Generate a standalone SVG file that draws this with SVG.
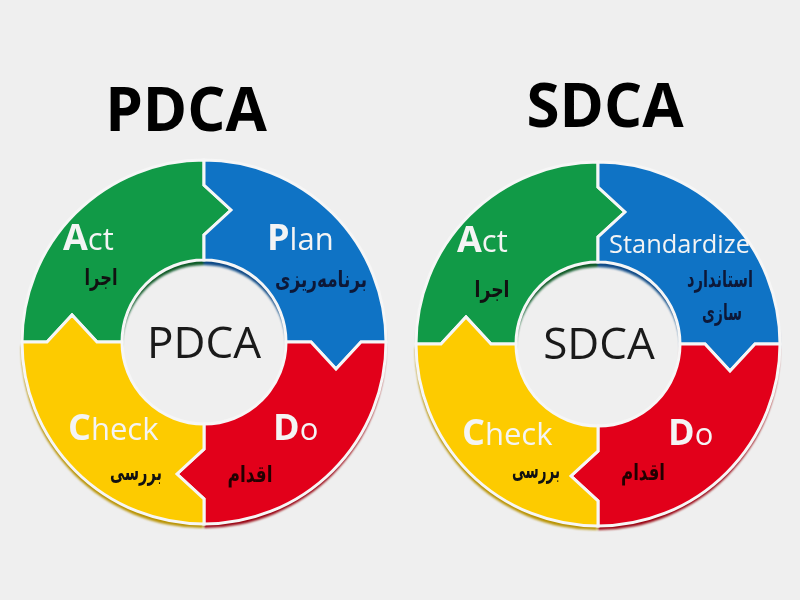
<svg xmlns="http://www.w3.org/2000/svg" xmlns:xlink="http://www.w3.org/1999/xlink" width="800" height="600" viewBox="0 0 800 600">
<style>
.title{font-family:"Open Sans","Liberation Sans",sans-serif;font-weight:700;font-size:60px;fill:#000;text-anchor:middle}
.center{font-family:"Open Sans","Liberation Sans",sans-serif;font-weight:400;font-size:44px;fill:#1a1a1a;text-anchor:middle}
.lbl{font-family:"Open Sans","Liberation Sans",sans-serif;fill:#f4f4f4}
.big{font-weight:700;font-size:36px}
.small{font-weight:400;font-size:31px}
.fa{font-family:"DejaVu Sans","Noto Sans",sans-serif;font-weight:700;font-size:23px;text-anchor:middle}
.seg{stroke:#f6f6f6;stroke-width:3;stroke-linejoin:miter}
</style>
<defs>
<filter id="soft" x="-10%" y="-10%" width="120%" height="120%"><feGaussianBlur stdDeviation="1"/></filter>
<path id="sg" d="M -182 0 L -157 0 L -132 -27 L -107 0 L -82 0 A 82 82 0 0 1 0 -82 L 0 -107 L 27 -132 L 0 -157 L 0 -182 A 182 182 0 0 0 -182 0 Z"/>
<path id="sb" d="M 0 -182 L 0 -157 L 27 -132 L 0 -107 L 0 -82 A 82 82 0 0 1 82 0 L 107 0 L 132 27 L 157 0 L 182 0 A 182 182 0 0 0 0 -182 Z"/>
<path id="sr" d="M 182 0 L 157 0 L 132 27 L 107 0 L 82 0 A 82 82 0 0 1 0 82 L 0 107 L -27 132 L 0 157 L 0 182 A 182 182 0 0 0 182 0 Z"/>
<path id="sy" d="M 0 182 L 0 157 L -27 132 L 0 107 L 0 82 A 82 82 0 0 1 -82 0 L -107 0 L -132 -27 L -157 0 L -182 0 A 182 182 0 0 0 0 182 Z"/>
<g id="rim" filter="url(#soft)">
<use xlink:href="#sg" fill="#0a5a28" transform="translate(0,5)"/>
<use xlink:href="#sb" fill="#0a4a86" transform="translate(0,5)"/>
<use xlink:href="#sr" fill="#98000f" transform="translate(0,4)"/>
<use xlink:href="#sy" fill="#b89200" transform="translate(-1,4)"/>
</g>
</defs>
<rect width="800" height="600" fill="#efefef"/>

<g id="pdca">
<text class="title" x="186" y="131">PDCA</text>
<g transform="translate(204,342)">
<use xlink:href="#rim"/>
</g>
<g id="pdca-act">
<use xlink:href="#sg" class="seg" fill="#119a47" transform="translate(204,342)"/>
<text class="lbl" x="63" y="250"><tspan class="big">A</tspan><tspan class="small">ct</tspan></text>
<text class="fa" x="101" y="285" fill="#111" textLength="33" lengthAdjust="spacingAndGlyphs">اجرا</text>
</g>
<g id="pdca-plan">
<use xlink:href="#sb" class="seg" fill="#0f73c5" transform="translate(204,342)"/>
<text class="lbl" x="267" y="250"><tspan class="big">P</tspan><tspan class="small">lan</tspan></text>
<text class="fa" x="321" y="287" fill="#0d1838" textLength="92" lengthAdjust="spacingAndGlyphs">برنامه&#8204;ریزی</text>
</g>
<g id="pdca-do">
<use xlink:href="#sr" class="seg" fill="#e2001a" transform="translate(204,342)"/>
<text class="lbl" x="273" y="440"><tspan class="big">D</tspan><tspan class="small">o</tspan></text>
<text class="fa" x="250" y="482" fill="#220000" textLength="45" lengthAdjust="spacingAndGlyphs">اقدام</text>
</g>
<g id="pdca-check">
<use xlink:href="#sy" class="seg" fill="#fdcb00" transform="translate(204,342)"/>
<text class="lbl" x="68" y="440"><tspan class="big">C</tspan><tspan class="small">heck</tspan></text>
<text class="fa" x="136" y="480" fill="#111" textLength="52" lengthAdjust="spacingAndGlyphs">بررسی</text>
</g>
<g id="pdca-center">
<text class="center" x="204" y="358">PDCA</text>
</g>
</g>

<g id="sdca">
<text class="title" x="605" y="127">SDCA</text>
<g transform="translate(598,344)">
<use xlink:href="#rim"/>
</g>
<g id="sdca-act">
<use xlink:href="#sg" class="seg" fill="#119a47" transform="translate(598,344)"/>
<text class="lbl" x="457" y="252"><tspan class="big">A</tspan><tspan class="small">ct</tspan></text>
<text class="fa" x="492" y="297" fill="#111" textLength="35" lengthAdjust="spacingAndGlyphs">اجرا</text>
</g>
<g id="sdca-standardize">
<use xlink:href="#sb" class="seg" fill="#0f73c5" transform="translate(598,344)"/>
<text class="lbl" x="609" y="253" font-size="25" textLength="141" lengthAdjust="spacingAndGlyphs" fill="#e4eef8">Standardize</text>
<text class="fa" x="720" y="287" fill="#0d1838" textLength="66" lengthAdjust="spacingAndGlyphs">استاندارد</text>
<text class="fa" x="722" y="320" fill="#0d1838" textLength="40" lengthAdjust="spacingAndGlyphs">سازی</text>
</g>
<g id="sdca-do">
<use xlink:href="#sr" class="seg" fill="#e2001a" transform="translate(598,344)"/>
<text class="lbl" x="668" y="445"><tspan class="big">D</tspan><tspan class="small">o</tspan></text>
<text class="fa" x="643" y="480" fill="#220000" textLength="44" lengthAdjust="spacingAndGlyphs">اقدام</text>
</g>
<g id="sdca-check">
<use xlink:href="#sy" class="seg" fill="#fdcb00" transform="translate(598,344)"/>
<text class="lbl" x="462" y="445"><tspan class="big">C</tspan><tspan class="small">heck</tspan></text>
<text class="fa" x="536" y="478" fill="#111" textLength="48" lengthAdjust="spacingAndGlyphs">بررسی</text>
</g>
<g id="sdca-center">
<text class="center" x="599" y="359">SDCA</text>
</g>
</g>
</svg>
